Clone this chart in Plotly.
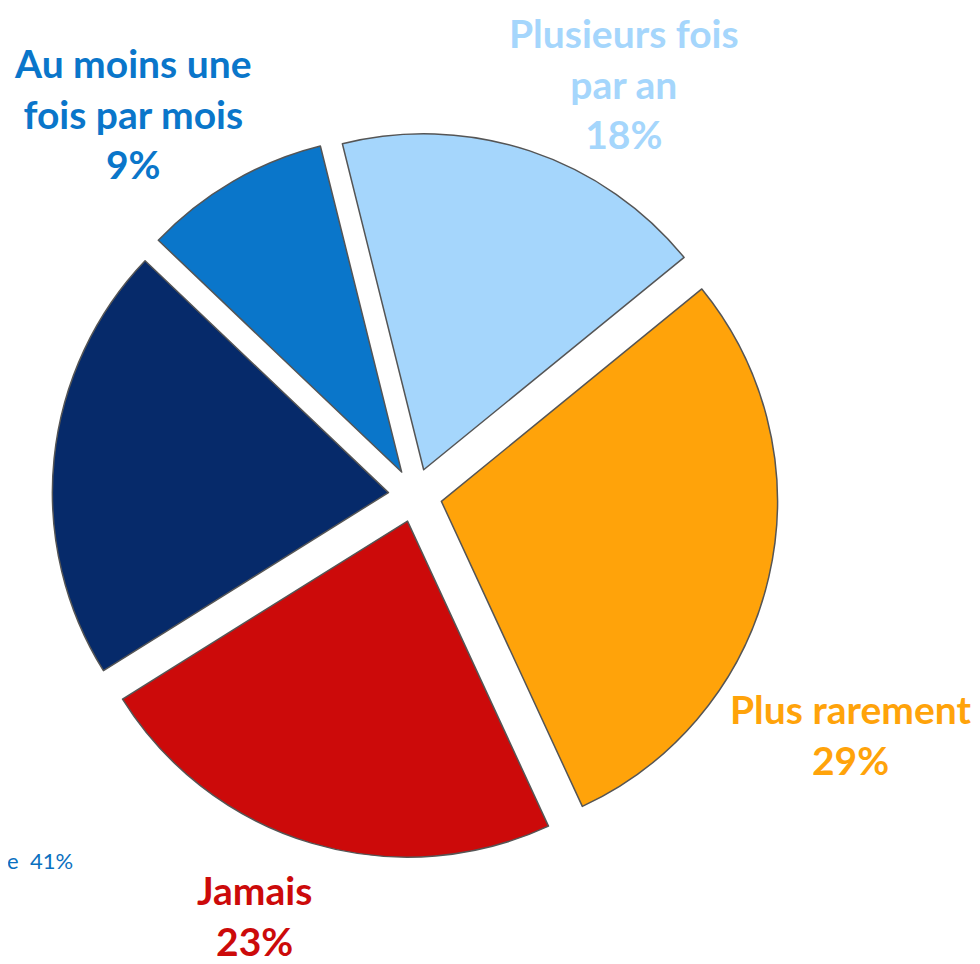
import plotly.graph_objects as go

categories = ["Plusieurs fois par an", "Plus rarement", "Jamais", "Autre", "Au moins une fois par mois"]
label_lines = ["Plusieurs fois<br>par an", "Plus rarement", "Jamais", "", "Au moins une<br>fois par mois"]
values = [18, 29, 23, 21, 9]
colors = ["#A5D6FC", "#FFA30A", "#CC0A0A", "#062A6A", "#0A76CA"]

# annotation placement (paper coords) for labels
label_pos = [(0.629, 0.922), (0.860, 0.246), (0.252, 0.059), None, (0.128, 0.891)]
fragment_text = "e  41%"

fig = go.Figure()
fig.add_trace(go.Pie(
    labels=categories,
    values=values,
    sort=False,
    direction="clockwise",
    rotation=-14,
    pull=[0.08] * len(values),
    marker=dict(colors=colors, line=dict(color="#555555", width=1.5)),
    textinfo="none",
    hoverinfo="label+percent",
    showlegend=False,
    domain=dict(x=[0.045, 0.786], y=[0.118, 0.871]),
))

for lab, val, col, pos in zip(label_lines, values, colors, label_pos):
    if pos is None:
        continue
    fig.add_annotation(
        x=pos[0], y=pos[1], xref="paper", yref="paper",
        text=f"<b>{lab}<br>{val}%</b>",
        showarrow=False, align="center",
        xanchor="center", yanchor="middle",
        font=dict(family="Lato, Open Sans, sans-serif", size=39, color=col),
    )

fig.add_annotation(
    x=0.068, y=0.116, xref="paper", yref="paper",
    text=fragment_text, showarrow=False, xanchor="right", yanchor="middle",
    font=dict(family="Lato, Open Sans, sans-serif", size=22, color="#0A70C0"),
)

fig.update_layout(
    width=980, height=964,
    margin=dict(l=0, r=0, t=0, b=0),
    paper_bgcolor="white", plot_bgcolor="white",
)

fig.write_html("out.html")
